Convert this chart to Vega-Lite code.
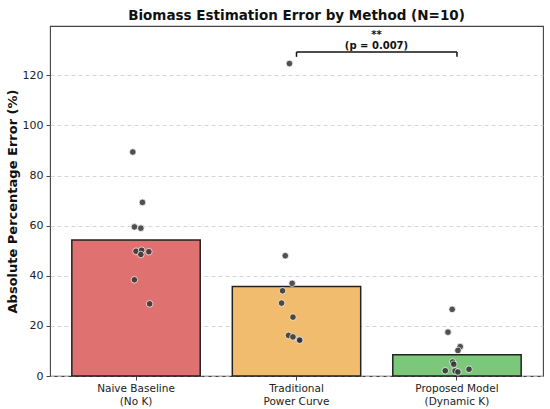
{
  "$schema": "https://vega.github.io/schema/vega-lite/v6.json",
  "autosize": {"type": "none"},
  "width": 493,
  "height": 350,
  "padding": {"left": 50, "top": 26, "right": 7, "bottom": 33},
  "background": "white",
  "config": {
    "font": "DejaVu Sans",
    "view": {"stroke": "#444444", "strokeWidth": 1.1},
    "axis": {
      "labelFont": "DejaVu Sans",
      "titleFont": "DejaVu Sans",
      "labelColor": "#222222",
      "tickColor": "#444444",
      "domain": false
    }
  },
  "title": {
    "text": "Biomass Estimation Error by Method (N=10)",
    "fontSize": 13.5,
    "fontWeight": "bold",
    "color": "#111111",
    "frame": "group",
    "anchor": "middle",
    "offset": 4
  },
  "datasets": {
    "points": [
      {"method": "Naive Baseline\n(No K)", "error": 89.4, "jitter": -0.02},
      {"method": "Naive Baseline\n(No K)", "error": 69.3, "jitter": 0.04},
      {"method": "Naive Baseline\n(No K)", "error": 59.5, "jitter": -0.01},
      {"method": "Naive Baseline\n(No K)", "error": 59.0, "jitter": 0.03},
      {"method": "Naive Baseline\n(No K)", "error": 49.8, "jitter": 0.0},
      {"method": "Naive Baseline\n(No K)", "error": 50.2, "jitter": 0.035},
      {"method": "Naive Baseline\n(No K)", "error": 48.5, "jitter": 0.03},
      {"method": "Naive Baseline\n(No K)", "error": 49.6, "jitter": 0.08},
      {"method": "Naive Baseline\n(No K)", "error": 38.4, "jitter": -0.01},
      {"method": "Naive Baseline\n(No K)", "error": 28.8, "jitter": 0.085},
      {"method": "Traditional\nPower Curve", "error": 124.7, "jitter": -0.044},
      {"method": "Traditional\nPower Curve", "error": 48.0, "jitter": -0.07},
      {"method": "Traditional\nPower Curve", "error": 37.0, "jitter": -0.027},
      {"method": "Traditional\nPower Curve", "error": 34.0, "jitter": -0.087},
      {"method": "Traditional\nPower Curve", "error": 29.1, "jitter": -0.093},
      {"method": "Traditional\nPower Curve", "error": 23.5, "jitter": -0.022},
      {"method": "Traditional\nPower Curve", "error": 16.2, "jitter": -0.05},
      {"method": "Traditional\nPower Curve", "error": 15.6, "jitter": -0.022},
      {"method": "Traditional\nPower Curve", "error": 14.4, "jitter": 0.017},
      {"method": "Traditional\nPower Curve", "error": 14.3, "jitter": 0.02},
      {"method": "Proposed Model\n(Dynamic K)", "error": 26.6, "jitter": -0.03},
      {"method": "Proposed Model\n(Dynamic K)", "error": 17.5, "jitter": -0.056},
      {"method": "Proposed Model\n(Dynamic K)", "error": 11.7, "jitter": 0.02},
      {"method": "Proposed Model\n(Dynamic K)", "error": 10.2, "jitter": 0.006},
      {"method": "Proposed Model\n(Dynamic K)", "error": 5.6, "jitter": -0.027},
      {"method": "Proposed Model\n(Dynamic K)", "error": 4.7, "jitter": -0.02},
      {"method": "Proposed Model\n(Dynamic K)", "error": 2.1, "jitter": -0.073},
      {"method": "Proposed Model\n(Dynamic K)", "error": 2.0, "jitter": -0.012},
      {"method": "Proposed Model\n(Dynamic K)", "error": 1.6, "jitter": 0.006},
      {"method": "Proposed Model\n(Dynamic K)", "error": 2.7, "jitter": 0.075}
    ],
    "bracket": [
      {"from": "Traditional\nPower Curve", "to": "Proposed Model\n(Dynamic K)", "y": 129.3}
    ],
    "ticks": [
      {"method": "Traditional\nPower Curve", "y": 129.3, "y2": 127.4},
      {"method": "Proposed Model\n(Dynamic K)", "y": 129.3, "y2": 127.4}
    ],
    "labels": [
      {"method": "Traditional\nPower Curve", "label": "**", "y": 136.3},
      {"method": "Traditional\nPower Curve", "label": "(p = 0.007)", "y": 131.9}
    ]
  },
  "resolve": {"scale": {"xOffset": "independent"}},
  "encoding": {
    "x": {
      "field": "method",
      "type": "nominal",
      "scale": {
        "type": "band",
        "domain": ["Naive Baseline\n(No K)", "Traditional\nPower Curve", "Proposed Model\n(Dynamic K)"],
        "paddingInner": 0.2,
        "paddingOuter": 0.136
      },
      "axis": {
        "title": null,
        "labelAngle": 0,
        "labelFontSize": 10.5,
        "labelExpr": "split(datum.label, '\\n')",
        "labelLineHeight": 13,
        "tickSize": 4,
        "labelPadding": 3,
        "grid": false
      }
    }
  },
  "layer": [
    {
      "data": {"name": "points"},
      "mark": {"type": "bar", "stroke": "#222222", "strokeWidth": 1.5},
      "encoding": {
        "y": {
          "aggregate": "mean",
          "field": "error",
          "type": "quantitative",
          "scale": {"domain": [0, 139.7], "nice": false},
          "axis": {
            "title": "Absolute Percentage Error (%)",
            "titleFontSize": 13,
            "titleFontWeight": "bold",
            "titleColor": "#111111",
            "labelFontSize": 11,
            "values": [0, 20, 40, 60, 80, 100, 120],
            "tickSize": 4,
            "labelPadding": 3,
            "titlePadding": 3,
            "grid": true,
            "gridDash": [4, 3],
            "gridColor": "#cccccc",
            "gridWidth": 0.8
          }
        },
        "color": {
          "field": "method",
          "type": "nominal",
          "legend": null,
          "scale": {
            "domain": ["Naive Baseline\n(No K)", "Traditional\nPower Curve", "Proposed Model\n(Dynamic K)"],
            "range": ["#e07171", "#f2bc6e", "#7cc87a"]
          }
        }
      }
    },
    {
      "data": {"name": "points"},
      "mark": {"type": "circle", "size": 44, "fill": "#333333", "opacity": 0.85, "stroke": "white", "strokeWidth": 0.8},
      "encoding": {
        "xOffset": {"field": "jitter", "type": "quantitative", "scale": {"domain": [-0.4, 0.4]}},
        "y": {"field": "error", "type": "quantitative"}
      }
    },
    {
      "data": {"name": "bracket"},
      "mark": {"type": "rule", "color": "#111111", "strokeWidth": 1.5},
      "encoding": {
        "x": {"field": "from"},
        "x2": {"field": "to"},
        "y": {"field": "y", "type": "quantitative"}
      }
    },
    {
      "data": {"name": "ticks"},
      "mark": {"type": "rule", "color": "#111111", "strokeWidth": 1.5},
      "encoding": {
        "y": {"field": "y", "type": "quantitative"},
        "y2": {"field": "y2"}
      }
    },
    {
      "data": {"name": "labels"},
      "mark": {"type": "text", "dx": 80, "fontSize": 10, "fontWeight": "bold", "color": "#111111", "baseline": "middle"},
      "encoding": {
        "y": {"field": "y", "type": "quantitative"},
        "text": {"field": "label"}
      }
    }
  ]
}
